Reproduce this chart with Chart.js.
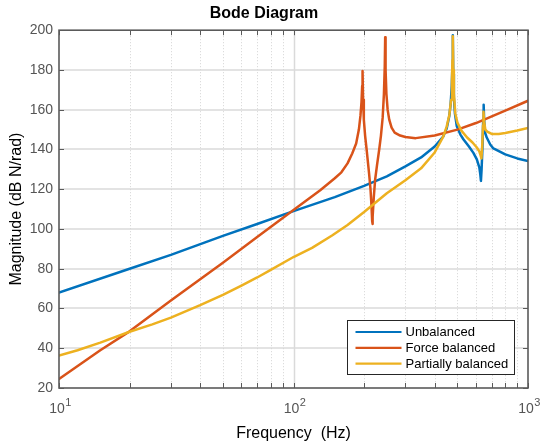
<!DOCTYPE html>
<html>
<head>
<meta charset="utf-8">
<script src="https://cdn.jsdelivr.net/npm/chart.js@4/dist/chart.umd.min.js"></script>
<style>
html,body{margin:0;padding:0;background:#fff;}
#c{display:block;}
</style>
</head>
<body>
<canvas id="c" width="540" height="447"></canvas>
<script>
// ---- data ----
const seriesNames = ['Unbalanced', 'Force balanced', 'Partially balanced'];

const unbalancedFreq = [10, 20, 30, 50, 70, 100, 150, 200, 250, 300, 350, 400, 435, 450, 462, 468, 473, 476, 478, 480, 483, 488, 497, 515, 531, 560, 585, 605, 620, 626, 630, 634, 640, 644, 647, 650, 656, 667, 690, 712, 800, 900, 1000];
const unbalancedMag  = [68, 80, 87, 96.5, 102.5, 109, 116, 121.7, 126.5, 131.5, 136, 141.5, 146.5, 150.5, 157, 163, 172, 182, 197.5, 178, 166, 158, 151.7, 147.5, 145, 141.5, 138.3, 135, 131, 127.5, 124.2, 130, 142, 155, 162.5, 155, 148.5, 146, 142.5, 140.5, 137.5, 135.5, 134.2];

const forceFreq = [10, 15, 20, 30, 50, 70, 100, 130, 150, 160, 170, 178, 185, 190, 193, 195, 196.3, 197, 198, 199.5, 202, 205, 210, 213, 215, 216.5, 217, 218, 220, 223, 227, 232, 236, 240, 243, 245, 246, 247, 249, 252, 256, 262, 270, 285, 300, 332, 400, 500, 600, 800, 1000];
const forceMag  = [24.5, 39, 48.5, 64, 83, 96, 109.5, 119.5, 125.5, 128.5, 133, 138, 143, 150, 157, 164, 172, 179.5, 165, 155, 147, 140, 128, 120, 112, 104, 102.5, 106, 116, 125, 132, 140, 147, 156, 168, 182, 196.5, 180, 168, 160, 155, 151, 148.5, 147, 146.3, 145.7, 147, 150, 153.3, 159.5, 164.5];

const partialFreq = [10, 12, 15, 20, 25, 30, 40, 50, 60, 70, 80, 100, 120, 146, 170, 200, 250, 300, 350, 400, 435, 450, 462, 470, 474, 476, 478, 480, 483, 490, 500, 520, 550, 580, 605, 620, 628, 633, 638, 643, 646, 650, 658, 670, 700, 750, 800, 900, 1000];
const partialMag  = [36.3, 39, 42.8, 48.3, 52, 55.4, 61.7, 66.9, 71.5, 75.6, 79.4, 85.9, 90.5, 96.7, 102, 108.5, 118, 124.5, 130.5, 138.5, 146.5, 151.5, 157.5, 165, 175, 185, 197, 180, 168, 158, 153.5, 149.5, 146, 143.5, 141, 139, 137, 135.5, 142, 152, 159, 154, 150, 149, 147.8, 147.8, 148.3, 149.5, 150.8];

const freqTicks = [10, 20, 30, 40, 50, 60, 70, 80, 90, 100, 200, 300, 400, 500, 600, 700, 800, 900, 1000];
const majorFreqs = [10, 100, 1000];
const majorFreqBase = '10';
const majorFreqExp = ['1', '2', '3'];
const magTicks = [20, 40, 60, 80, 100, 120, 140, 160, 180, 200];

const colors = ['#0072BD', '#D95319', '#EDB120'];

function pairs(fs, ms) { return fs.map((f, i) => ({x: f, y: ms[i]})); }

const FONT = "'Liberation Sans', Arial, Helvetica, sans-serif";
const AXIS_COLOR = '#5a5a5a';
const GRID_COLOR = '#dadada';
const LABEL_COLOR = '#555555';

const decor = {
  id: 'decor',
  beforeDatasetsDraw(chart) {
    const {ctx, chartArea: a, scales: {x, y}} = chart;
    ctx.save();
    ctx.strokeStyle = GRID_COLOR;
    ctx.lineWidth = 1.5;
    ctx.setLineDash([]);
    magTicks.forEach(v => {
      if (v === 20 || v === 200) return;
      const py = Math.round(y.getPixelForValue(v));
      ctx.beginPath(); ctx.moveTo(a.left, py); ctx.lineTo(a.right, py); ctx.stroke();
    });
    freqTicks.forEach(v => {
      if (v === 10 || v === 1000) return;
      const px = Math.round(x.getPixelForValue(v)) + 0.5;
      ctx.beginPath();
      if (majorFreqs.includes(v)) {
        ctx.setLineDash([]); ctx.lineWidth = 1.5; ctx.strokeStyle = GRID_COLOR;
      } else {
        ctx.setLineDash([1, 2]); ctx.lineWidth = 1; ctx.strokeStyle = '#d4d4d4';
      }
      ctx.moveTo(px, a.top); ctx.lineTo(px, a.bottom); ctx.stroke();
    });
    ctx.restore();
  },
  afterDatasetsDraw(chart) {
    const {ctx, chartArea: a, scales: {x, y}} = chart;
    ctx.save();
    ctx.setLineDash([]);
    ctx.strokeStyle = AXIS_COLOR;
    ctx.lineWidth = 1;
    const tl = 5;
    magTicks.forEach(v => {
      const py = Math.round(y.getPixelForValue(v)) + 0.5;
      ctx.beginPath();
      ctx.moveTo(a.left, py); ctx.lineTo(a.left + tl, py);
      ctx.moveTo(a.right, py); ctx.lineTo(a.right - tl, py);
      ctx.stroke();
    });
    freqTicks.forEach(v => {
      const px = Math.round(x.getPixelForValue(v)) + 0.5;
      ctx.beginPath();
      ctx.moveTo(px, a.bottom); ctx.lineTo(px, a.bottom - tl);
      ctx.moveTo(px, a.top); ctx.lineTo(px, a.top + tl);
      ctx.stroke();
    });
    ctx.lineWidth = 1.6;
    ctx.strokeRect(a.left, a.top, a.right - a.left, a.bottom - a.top);

    // x tick labels 10^n with superscript exponent
    ctx.fillStyle = LABEL_COLOR;
    ctx.textBaseline = 'middle';
    ctx.textAlign = 'left';
    majorFreqs.forEach((v, i) => {
      const px = x.getPixelForValue(v);
      ctx.font = '14px ' + FONT;
      const wb = ctx.measureText(majorFreqBase).width;
      ctx.font = '11px ' + FONT;
      const we = ctx.measureText(majorFreqExp[i]).width;
      const x0 = px - (wb + we) / 2 + 1;
      ctx.font = '14px ' + FONT;
      ctx.fillText(majorFreqBase, x0, a.bottom + 21);
      ctx.font = '11px ' + FONT;
      ctx.fillText(majorFreqExp[i], x0 + wb + 0.5, a.bottom + 15);
    });

    // legend
    const bw = 167, bh = 54;
    const bx = Math.round(a.right - 14 - bw) + 0.5, by = Math.round(a.bottom - 14 - bh) + 0.5;
    ctx.fillStyle = '#ffffff';
    ctx.fillRect(bx, by, bw, bh);
    ctx.strokeStyle = '#262626';
    ctx.lineWidth = 1;
    ctx.strokeRect(bx, by, bw, bh);
    ctx.font = '13px ' + FONT;
    ctx.textBaseline = 'middle';
    ctx.textAlign = 'left';
    chart.data.datasets.forEach((ds, i) => {
      const ly = by + 11.5 + i * 15.8;
      ctx.strokeStyle = ds.borderColor;
      ctx.lineWidth = 2.2;
      ctx.beginPath(); ctx.moveTo(bx + 8, ly); ctx.lineTo(bx + 54, ly); ctx.stroke();
      ctx.fillStyle = '#000000';
      ctx.fillText(ds.label, bx + 58, ly + 0.5);
    });
    ctx.restore();
  }
};

new Chart(document.getElementById('c'), {
  type: 'line',
  data: {
    datasets: [
      {label: seriesNames[0], data: pairs(unbalancedFreq, unbalancedMag), borderColor: colors[0], order: 3},
      {label: seriesNames[1], data: pairs(forceFreq, forceMag), borderColor: colors[1], order: 2},
      {label: seriesNames[2], data: pairs(partialFreq, partialMag), borderColor: colors[2], order: 1}
    ]
  },
  options: {
    responsive: false,
    animation: false,
    devicePixelRatio: 1,
    events: [],
    layout: {padding: {left: 0, right: 12, top: 0, bottom: 0}},
    elements: {
      line: {borderWidth: 2.5, tension: 0, fill: false, borderJoinStyle: 'round', borderCapStyle: 'round'},
      point: {radius: 0, hoverRadius: 0}
    },
    plugins: {
      legend: {display: false},
      tooltip: {enabled: false},
      title: {
        display: true,
        text: 'Bode Diagram',
        color: '#000000',
        font: {family: FONT, size: 16, weight: 'bold', lineHeight: 1.2},
        padding: {top: 4, bottom: 7}
      }
    },
    scales: {
      x: {
        type: 'logarithmic',
        min: 10, max: 1000,
        grid: {display: false, drawTicks: false},
        border: {display: false},
        afterBuildTicks(scale) {
          scale.ticks = freqTicks.map(v => ({value: v}));
        },
        afterFit(scale) { scale.height = 59; scale.paddingLeft = 0; scale.paddingRight = 0; },
        ticks: {
          autoSkip: false, maxRotation: 0, minRotation: 0,
          padding: 14,
          font: {family: FONT, size: 14},
          callback() { return ''; }
        },
        title: {
          display: true,
          text: 'Frequency  (Hz)',
          color: '#000000',
          font: {family: FONT, size: 16, lineHeight: 1.2},
          padding: {top: 0, bottom: 4}
        }
      },
      y: {
        type: 'linear',
        min: 20, max: 200,
        grid: {display: false, drawTicks: false},
        border: {display: false},
        afterBuildTicks(scale) {
          scale.ticks = magTicks.map(v => ({value: v}));
        },
        afterFit(scale) { scale.width = 59; scale.paddingTop = 0; scale.paddingBottom = 0; },
        ticks: {
          padding: 6,
          color: LABEL_COLOR,
          font: {family: FONT, size: 14}
        },
        title: {
          display: true,
          text: 'Magnitude (dB N/rad)',
          color: '#000000',
          font: {family: FONT, size: 16, lineHeight: 1.2},
          padding: {top: 7, bottom: 0}
        }
      }
    }
  },
  plugins: [decor]
});
</script>
</body>
</html>
